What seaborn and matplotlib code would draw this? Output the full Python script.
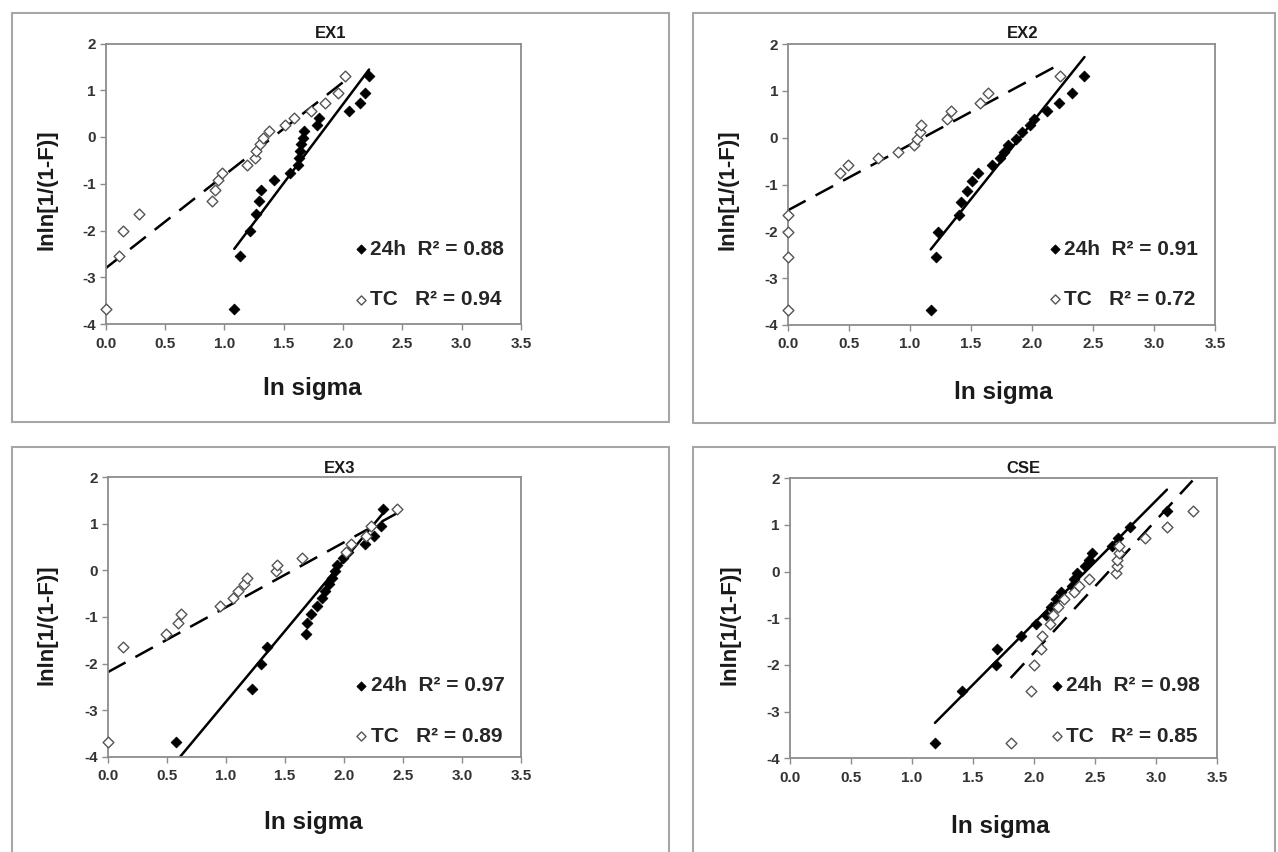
import matplotlib
matplotlib.use("Agg")
import matplotlib.pyplot as plt
from matplotlib.patches import Rectangle
import pandas as pd
import seaborn as sns

sns.set_style("ticks")
plt.rcParams["font.family"] = ["Liberation Sans", "DejaVu Sans"]
plt.rcParams["font.weight"] = "bold"
plt.rcParams["axes.unicode_minus"] = False

W, H = 1278, 852

# ---- data (x = ln sigma, y = lnln[1/(1-F)]) ----
ex1_24h_x = [1.085, 1.13, 1.22, 1.27, 1.29, 1.31, 1.42, 1.55, 1.62, 1.63,
             1.64, 1.65, 1.66, 1.67, 1.78, 1.80, 2.05, 2.14, 2.19, 2.22]
ex1_24h_y = [-3.68, -2.55, -2.01, -1.65, -1.37, -1.13, -0.93, -0.76, -0.59, -0.44,
             -0.30, -0.16, -0.02, 0.12, 0.26, 0.40, 0.56, 0.73, 0.95, 1.31]
ex1_tc_x = [0.00, 0.11, 0.15, 0.28, 0.90, 0.92, 0.95, 0.98, 1.19, 1.26,
            1.27, 1.30, 1.33, 1.38, 1.51, 1.59, 1.73, 1.85, 1.96, 2.02]
ex1_tc_y = [-3.68, -2.55, -2.01, -1.65, -1.37, -1.13, -0.93, -0.76, -0.59, -0.44,
            -0.30, -0.16, -0.02, 0.12, 0.26, 0.40, 0.56, 0.73, 0.95, 1.31]

ex2_24h_x = [1.17, 1.215, 1.23, 1.40, 1.42, 1.47, 1.51, 1.555, 1.675, 1.74,
             1.77, 1.80, 1.87, 1.92, 1.98, 2.02, 2.12, 2.22, 2.33, 2.43]
ex2_24h_y = [-3.68, -2.55, -2.01, -1.65, -1.37, -1.13, -0.93, -0.76, -0.59, -0.44,
             -0.30, -0.16, -0.02, 0.12, 0.26, 0.40, 0.56, 0.73, 0.95, 1.31]
ex2_tc_x = [0.00, 0.00, 0.00, 0.00, 0.43, 0.49, 0.74, 0.90, 1.035, 1.055,
            1.08, 1.09, 1.30, 1.34, 1.57, 1.64, 2.23]
ex2_tc_y = [-3.68, -2.55, -2.01, -1.65, -0.76, -0.59, -0.44, -0.30, -0.16, -0.02,
            0.12, 0.26, 0.40, 0.56, 0.73, 0.95, 1.31]

ex3_24h_x = [0.58, 1.22, 1.30, 1.35, 1.675, 1.69, 1.72, 1.77, 1.81, 1.84,
             1.875, 1.895, 1.92, 1.94, 1.99, 2.03, 2.18, 2.25, 2.31, 2.33]
ex3_24h_y = [-3.68, -2.55, -2.01, -1.65, -1.37, -1.13, -0.93, -0.76, -0.59, -0.44,
             -0.30, -0.16, -0.02, 0.12, 0.26, 0.40, 0.56, 0.73, 0.95, 1.31]
ex3_tc_x = [0.00, 0.13, 0.49, 0.59, 0.62, 0.945, 1.06, 1.10, 1.155, 1.175,
            1.42, 1.43, 1.64, 2.02, 2.06, 2.19, 2.23, 2.45]
ex3_tc_y = [-3.68, -1.65, -1.37, -1.13, -0.93, -0.76, -0.59, -0.44, -0.30, -0.16,
            -0.02, 0.12, 0.26, 0.40, 0.56, 0.73, 0.95, 1.31]

cse_24h_x = [1.19, 1.41, 1.69, 1.70, 1.895, 2.02, 2.10, 2.14, 2.18, 2.22,
             2.31, 2.33, 2.35, 2.42, 2.45, 2.48, 2.64, 2.69, 2.79, 3.09]
cse_24h_y = [-3.68, -2.55, -2.01, -1.65, -1.37, -1.13, -0.93, -0.76, -0.59, -0.44,
             -0.30, -0.16, -0.02, 0.12, 0.26, 0.40, 0.56, 0.73, 0.95, 1.31]
cse_tc_x = [1.81, 1.98, 2.00, 2.06, 2.07, 2.13, 2.16, 2.20, 2.25, 2.33,
            2.37, 2.45, 2.67, 2.68, 2.68, 2.70, 2.70, 2.91, 3.09, 3.30]
cse_tc_y = [-3.68, -2.55, -2.01, -1.65, -1.37, -1.13, -0.93, -0.76, -0.59, -0.44,
            -0.30, -0.16, -0.02, 0.12, 0.26, 0.40, 0.56, 0.73, 0.95, 1.31]

# linear trendlines (slope, intercept) as drawn in the picture
trend_24h = [(3.38, -6.06), (3.26, -6.20), (3.035, -5.85), (2.63, -6.37)]
trend_tc = [(1.99, -2.81), (1.40, -1.55), (1.39, -2.18), (2.84, -7.42)]

titles = ["EX1", "EX2", "EX3", "CSE"]
r2_24h = [0.88, 0.91, 0.97, 0.98]
r2_tc = [0.94, 0.72, 0.89, 0.85]
x_ticks = [0.0, 0.5, 1.0, 1.5, 2.0, 2.5, 3.0, 3.5]
y_ticks = [-4, -3, -2, -1, 0, 1, 2]

series_24h = [(ex1_24h_x, ex1_24h_y), (ex2_24h_x, ex2_24h_y),
              (ex3_24h_x, ex3_24h_y), (cse_24h_x, cse_24h_y)]
series_tc = [(ex1_tc_x, ex1_tc_y), (ex2_tc_x, ex2_tc_y),
             (ex3_tc_x, ex3_tc_y), (cse_tc_x, cse_tc_y)]

# layout in pixels
boxes = [(12, 13, 669, 422), (693, 13, 1275, 423),
         (12, 447, 669, 900), (693, 447, 1275, 900)]
plot_areas = [(105.5, 43.5, 521, 324), (788, 44, 1215, 325),
              (108, 477, 521, 757), (789.7, 478.3, 1217, 758.3)]
legend_anchor = [(0.985, 0.016), (0.985, 0.02), (0.985, 0.003), (0.985, 0.008)]
title_pos = [(331, 33), (1023, 33), (340, 468), (1023, 468)]
ylabel_pos = [(47, 190), (728, 190), (47, 625), (730, 625)]
xlabel_pos = [(312, 388), (1003, 392), (313, 822), (1000, 827)]


def fx(px):
    return px / W


def fy(py):
    return 1 - py / H


fig = plt.figure(figsize=(W / 100, H / 100), dpi=100)

for i in range(4):
    x0, y0, x1, y1 = boxes[i]
    fig.add_artist(Rectangle((fx(x0), fy(y1)), fx(x1) - fx(x0), fy(y0) - fy(y1),
                             transform=fig.transFigure, fill=False,
                             ec="#a6a6a6", lw=1.5))

    l, t, r, b = plot_areas[i]
    ax = fig.add_axes([fx(l), fy(b), fx(r) - fx(l), fy(t) - fy(b)])

    # trendlines
    xs, ys = series_24h[i]
    m, c = trend_24h[i]
    ends = [min(xs), max(xs)]
    sns.lineplot(x=ends, y=[m * v + c for v in ends], ax=ax, color="black",
                 lw=1.8, zorder=2)
    xt, yt = series_tc[i]
    m, c = trend_tc[i]
    ends = [min(xt), max(xt)]
    sns.lineplot(x=ends, y=[m * v + c for v in ends], ax=ax, color="black",
                 lw=1.8, linestyle=(0, (8, 4.5)), zorder=2)

    # points
    sns.scatterplot(data=pd.DataFrame({"x": xs, "y": ys}), x="x", y="y", ax=ax,
                    marker="D", s=30, color="black", edgecolor="black",
                    linewidth=0.6, clip_on=False, zorder=3,
                    label=f"24h  R\u00b2 = {r2_24h[i]:.2f}")
    sns.scatterplot(data=pd.DataFrame({"x": xt, "y": yt}), x="x", y="y", ax=ax,
                    marker="D", s=30, color="white", edgecolor="#555555",
                    linewidth=1.0, clip_on=False, zorder=3,
                    label=f"TC   R\u00b2 = {r2_tc[i]:.2f}")

    ax.set_xlim(0, 3.5)
    ax.set_ylim(-4, 2)
    ax.set_xticks(x_ticks)
    ax.set_xticklabels([f"{v:.1f}" for v in x_ticks])
    ax.set_yticks(y_ticks)
    ax.set_xlabel("")
    ax.set_ylabel("")
    for sp in ax.spines.values():
        sp.set_visible(True)
        sp.set_color("#8c8c8c")
        sp.set_linewidth(1.3)
    ax.tick_params(direction="out", length=4, width=1, color="#8c8c8c",
                   labelsize=11, labelcolor="#333333")
    ax.tick_params(axis="x", pad=5)
    ax.tick_params(axis="y", pad=3)

    ax.legend(loc="lower right", bbox_to_anchor=legend_anchor[i], frameon=False,
              prop=dict(size=15, weight="bold"), handletextpad=0.1,
              labelspacing=1.5, handlelength=0.7, borderpad=0,
              markerscale=0.85)

    fig.text(fx(title_pos[i][0]), fy(title_pos[i][1]), titles[i],
             ha="center", va="center", fontsize=12, weight="bold", color="#1a1a1a")
    fig.text(fx(ylabel_pos[i][0]), fy(ylabel_pos[i][1]), "lnln[1/(1-F)]",
             ha="center", va="center", rotation=90, fontsize=16, weight="bold",
             color="#1a1a1a")
    fig.text(fx(xlabel_pos[i][0]), fy(xlabel_pos[i][1]), "ln sigma",
             ha="center", va="center", fontsize=17.5, weight="bold", color="#1a1a1a")

fig.savefig("out.png", dpi=100)
